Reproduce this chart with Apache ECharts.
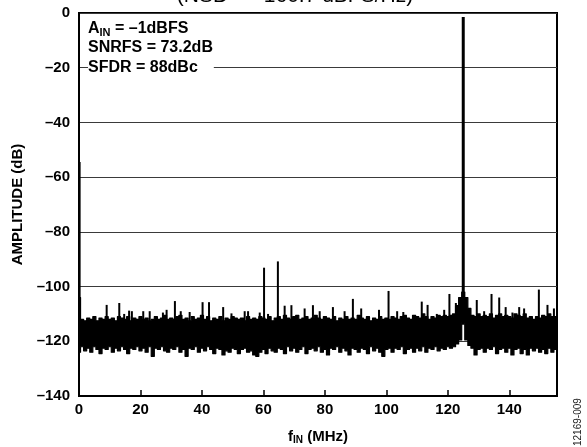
<!DOCTYPE html>
<html>
<head>
<meta charset="utf-8">
<script src="https://cdn.jsdelivr.net/npm/echarts@6/dist/echarts.min.js"></script>
<style>html,body{margin:0;padding:0;background:#fff;}#c{width:587px;height:447px;}</style>
</head>
<body>
<div id="c"></div>
<script>
// Frequency grid of the noise-floor envelope (MHz): 0,1,...,155
const bandFreq = [];
for (let f = 0; f <= 155; f++) bandFreq.push(f);
// Upper edge of noise floor (dB)
const bandUpper = [-104,-112,-112.5,-111.5,-112,-111,-112.5,-111.5,-112,-111,-112,-111.5,-112.5,-111,-111.5,-112,-111,-112.5,-111.5,-112,
-111,-112,-111.5,-112.5,-112,-111,-112,-111.5,-110.5,-112,-111.5,-112,-111,-110.5,-112,-111.5,-112.5,-111,-112,-111.5,
-110.5,-112,-111,-112.5,-111.5,-112,-111,-112.5,-111.5,-112,-111,-111.5,-112,-111.5,-112.5,-111,-112,-111.5,-112,-111,
-111.5,-112,-111,-112.5,-111.5,-111,-112,-110.5,-111.5,-112,-111,-110.5,-112,-111.5,-111,-112,-111.5,-110.5,-111.5,-112,
-111,-111.5,-112,-111,-112.5,-111.5,-112,-111,-112,-111.5,-112,-110.5,-111.5,-112,-111,-112.5,-111.5,-112,-111,-112,
-111.5,-112,-111,-111.5,-112,-111,-110.5,-111.5,-112,-110.5,-111,-111.5,-110,-111,-112,-111,-111.5,-110.5,-111,-110.5,
-111,-110.5,-110,-107,-104,-102,-104,-108,-110.5,-111,-110,-111,-110.5,-111,-110,-111.5,-110.5,-110,-111,-110.5,
-111,-111.5,-110,-110.5,-111,-110,-111.5,-111,-112,-111,-111.5,-110.5,-111,-110,-111,-111];
// Lower edge of noise floor (dB)
const bandLower = [-124,-122,-123.5,-122.5,-124,-122,-123,-124.5,-122.5,-123,-122,-124,-122.5,-123.5,-122,-123,-124.5,-122.5,-123,-122,
-123.5,-122.5,-124,-122,-125.5,-122.5,-123,-122,-123.5,-124,-122.5,-123,-122,-124,-123,-125.5,-122.5,-123,-122,-124,
-122.5,-123.5,-122,-123,-124.5,-122.5,-123,-125,-123.5,-124,-122.5,-123,-124.5,-123,-122.5,-124,-123.5,-125,-125.5,-124,
-123,-124.5,-122.5,-123.5,-124,-122.5,-123,-124.5,-122,-123.5,-122.5,-124,-123,-122,-124.5,-123,-122.5,-123.5,-122,-124,
-123,-125,-122.5,-123,-122,-124,-122.5,-123.5,-125,-122.5,-123,-124,-122.5,-123,-124.5,-122,-123.5,-122.5,-124,-125.5,
-123,-122.5,-124,-122.5,-123,-122,-124.5,-123,-122.5,-124,-122.5,-123.5,-122,-124,-122.5,-123,-122,-123.5,-122.5,-123,
-122,-122.5,-122,-121,-119.5,-113,-119.5,-121.5,-122.5,-125,-123,-122.5,-124,-122.5,-123,-122,-124.5,-123,-122.5,-124,
-122.5,-125,-123,-122.5,-124.5,-123,-125,-122.5,-123.5,-122.5,-124,-123,-124.5,-122.5,-124,-123];
// Spurs / tones: frequency (MHz) and peak level (dB)
const spurFreq  = [0.2, 9.0, 13.1, 14.7, 16.3, 17.2, 20.9, 23.0, 27.3, 28.5, 31.2, 33.1, 36.0, 40.2, 42.3, 46.9, 49.6,
  53.9, 55.0, 58.8, 60.2, 61.5, 64.7, 66.9, 69.1, 73.4, 76.1, 78.3, 82.6, 86.4, 89.1, 91.8, 97.6, 100.7,
  103.5, 105.5, 111.5, 113.4, 116.4, 118.8, 120.5, 122.6, 125.0, 129.4, 131.8, 134.2, 136.7, 138.8, 141.0, 143.2, 144.8, 149.6, 152.4, 154.5];
const spurLevel = [-54.5, -106.7, -106, -110, -108.8, -109, -109, -109, -109.5, -108.5, -105.3, -109, -109.3, -105.7, -105.7, -107.5, -109.8,
  -109, -109, -109.5, -93.1, -110, -90.8, -107, -106.8, -108, -106.8, -109, -107.5, -109, -104.5, -108, -108.5, -101.6,
  -109, -109.3, -105.5, -106.7, -110, -108.5, -102.7, -106, -1.5, -104.9, -109, -102.7, -104, -107.5, -109.5, -107.5, -108, -101.1, -106.7, -108];
// Axis ticks
const xTicks = [0, 20, 40, 60, 80, 100, 120, 140];
const yTicks = [0, -20, -40, -60, -80, -100, -120, -140];

const FONT = "'Liberation Sans', Arial, Helvetica, sans-serif";
const chart = echarts.init(document.getElementById('c'), null, {renderer: 'canvas'});
const fmtY = v => (v < 0 ? '\u2013' + (-v) : '' + v);

chart.setOption({
  animation: false,
  backgroundColor: '#fff',
  grid: {left: 79, right: 30, top: 13, bottom: 51, outerBoundsMode: 'none', containLabel: false,
    show: true, borderColor: '#000', borderWidth: 2, backgroundColor: 'transparent'},
  xAxis: {
    type: 'value', min: 0, max: 155.5, interval: 20,
    axisLine: {onZero: false, lineStyle: {color: '#000', width: 2}},
    axisTick: {inside: true, length: 6, lineStyle: {color: '#000', width: 1.5}},
    axisLabel: {color: '#000', fontFamily: FONT, fontWeight: 'bold', fontSize: 15, margin: 6,
      formatter: v => (xTicks.indexOf(v) >= 0 ? '' + v : '')},
    splitLine: {show: false},
    name: '{f|f}{s|IN}{f| (MHz)}', nameLocation: 'middle', nameGap: 32,
    nameTextStyle: {rich: {
      f: {fontFamily: FONT, fontWeight: 'bold', fontSize: 15, color: '#000'},
      s: {fontFamily: FONT, fontWeight: 'bold', fontSize: 10, color: '#000', verticalAlign: 'bottom', padding: [7, 0, 0, 0]}
    }}
  },
  yAxis: {
    type: 'value', min: -140, max: 0, interval: 20,
    axisLine: {onZero: false, lineStyle: {color: '#000', width: 2}},
    axisTick: {show: false},
    axisLabel: {color: '#000', fontFamily: FONT, fontWeight: 'bold', fontSize: 15, margin: 9,
      formatter: v => (yTicks.indexOf(v) >= 0 ? fmtY(v) : '')},
    splitLine: {show: true, lineStyle: {color: '#3a3a3a', width: 1}},
    name: 'AMPLITUDE (dB)', nameLocation: 'middle', nameGap: 53,
    nameTextStyle: {fontFamily: FONT, fontWeight: 'bold', fontSize: 15, color: '#000'}
  },
  series: [
    {
      type: 'custom', clip: true, z: 3,
      data: [[bandFreq[0], bandUpper[0]]],
      renderItem: function (params, api) {
        const pts = [];
        const n = bandFreq.length;
        for (let i = 0; i < n; i++) {
          pts.push(api.coord([Math.max(0, bandFreq[i] - 0.5), bandUpper[i]]));
          pts.push(api.coord([Math.min(155.5, bandFreq[i] + 0.5), bandUpper[i]]));
        }
        for (let i = n - 1; i >= 0; i--) {
          pts.push(api.coord([Math.min(155.5, bandFreq[i] + 0.5), bandLower[i]]));
          pts.push(api.coord([Math.max(0, bandFreq[i] - 0.5), bandLower[i]]));
        }
        return {type: 'polygon', shape: {points: pts}, style: {fill: '#000', stroke: '#000', lineWidth: 1.2, lineJoin: 'round'}};
      }
    },
    {
      type: 'custom', clip: true, z: 4,
      data: spurFreq.map((f, i) => [f, spurLevel[i]]),
      renderItem: function (params, api) {
        const f = api.value(0), lv = api.value(1);
        const p0 = api.coord([f, -114]);
        const p1 = api.coord([f, lv]);
        return {type: 'line', shape: {x1: p0[0], y1: p0[1], x2: p1[0], y2: p1[1]},
          style: {stroke: '#000', lineWidth: lv > -10 ? 3 : 2}};
      }
    }
  ],
  graphic: [
    {type: 'text', left: 88, top: 21, z: 10, style: {
      text: 'A{s|IN} = \u20131dBFS', fill: '#000', font: 'bold 16px ' + FONT,
      rich: {s: {font: 'bold 11px ' + FONT, fill: '#000', padding: [7, 0, 0, 0]}}}},
    {type: 'text', left: 88, top: 40, z: 10, style: {text: 'SNRFS = 73.2dB', fill: '#000', font: 'bold 16px ' + FONT}},
    {type: 'text', left: 88, top: 59, z: 10, style: {text: 'SFDR = 88dBc', fill: '#000', font: 'bold 16px ' + FONT,
      backgroundColor: '#fff', padding: [1, 16, 1, 0]}},
    {type: 'text', x: 295, y: -14, z: 10, style: {text: '(NSD = \u2013160.7 dBFS/Hz)', fill: '#000', font: '21px ' + FONT, align: 'center'}},
    {type: 'text', x: 573, y: 446, rotation: Math.PI / 2, z: 10, style: {text: '12169-009', fill: '#222', font: '10px ' + FONT}}
  ]
});
</script>
</body>
</html>
